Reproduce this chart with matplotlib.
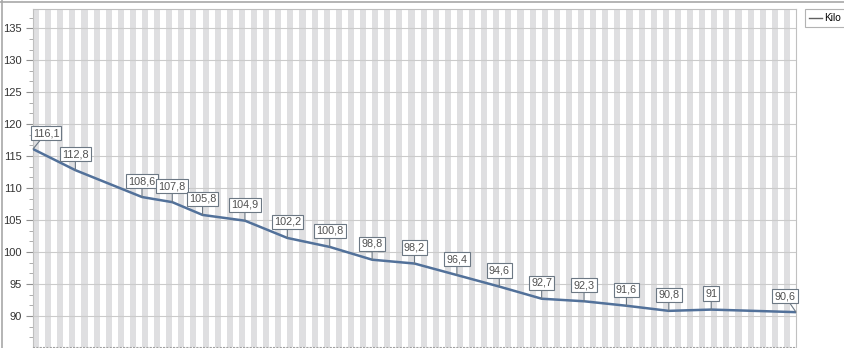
import matplotlib
matplotlib.use('Agg')
import matplotlib.pyplot as plt
from matplotlib.lines import Line2D
from matplotlib.ticker import MultipleLocator

# jours depuis la premiere pesee et poids (kg)
jours = [0, 7, 18, 23, 28, 35, 42, 49, 56, 63, 70, 77, 84, 91, 98, 105, 112, 126]
poids = [116.1, 112.8, 108.6, 107.8, 105.8, 104.9, 102.2, 100.8, 98.8, 98.2,
         96.4, 94.6, 92.7, 92.3, 91.6, 90.8, 91.0, 90.6]
etiquettes = ['116,1', '112,8', '108,6', '107,8', '105,8', '104,9', '102,2', '100,8',
              '98,8', '98,2', '96,4', '94,6', '92,7', '92,3', '91,6', '90,8', '91', '90,6']
nom_serie = 'Kilo'

plt.rcParams['font.family'] = ['Liberation Sans', 'DejaVu Sans']

fig = plt.figure(figsize=(8.44, 3.48), dpi=100)
ax = fig.add_axes([33 / 844, 1 / 348, (796 - 33) / 844, (347 - 9) / 348])

# bandes verticales alternees (un jour sur deux)
for d in range(0, 126, 2):
    ax.axvspan(d, d + 1, color='#dfdfe1', lw=0, zorder=0)

ax.set_xlim(0, 126)
ax.set_ylim(85.15, 138)
ax.yaxis.set_major_locator(MultipleLocator(5))
ax.yaxis.set_minor_locator(MultipleLocator(5 / 3))
ax.grid(axis='y', which='major', color='#cbcbcb', lw=0.8, zorder=1)
ax.set_axisbelow(True)

ax.plot(jours, poids, color='#52719a', lw=1.8, zorder=3)

# etiquettes de valeurs
for i, (j, p, t) in enumerate(zip(jours, poids, etiquettes)):
    dx, dy = 0, 16
    if i == 0:
        dx = 13
    elif i == len(jours) - 1:
        dx, dy = -11, 16
    ax.annotate(t, xy=(j, p), xytext=(dx, dy), textcoords='offset pixels',
                ha='center', va='center', fontsize=7.8, color='#505050', zorder=5,
                bbox=dict(boxstyle='square,pad=0.2', fc='white', ec='#6c7884', lw=0.8),
                arrowprops=dict(arrowstyle='-', color='#6c7884', lw=0.8,
                                shrinkA=0, shrinkB=0),
                annotation_clip=False)

for s in ['top', 'right', 'left']:
    ax.spines[s].set_color('#c0c0c0')
ax.spines['bottom'].set_color('#a0a0a0')
ax.spines['bottom'].set_linestyle((0, (1, 2)))
ax.tick_params(axis='y', which='major', length=5, color='#909090',
               labelsize=8, labelcolor='#333333', pad=3)
ax.tick_params(axis='y', which='minor', length=3, color='#a0a0a0')
ax.tick_params(axis='x', which='both', bottom=False, labelbottom=False)

# cadre exterieur
fig.add_artist(Line2D([0, 1], [1 - 1.5 / 348] * 2, color='#a8a8a8', lw=1.2))
fig.add_artist(Line2D([1.5 / 844] * 2, [0, 1], color='#a8a8a8', lw=1.2))

leg = fig.legend(handles=[Line2D([], [], color='#606060', lw=1)], labels=[nom_serie],
                 loc='upper left', bbox_to_anchor=(805 / 844, 1 - 9 / 348),
                 fontsize=7.2, frameon=True, fancybox=False, handlelength=1.3,
                 handletextpad=0.25, borderpad=0.4, borderaxespad=0)
leg.get_frame().set_edgecolor('#a0a0a0')
leg.get_frame().set_linewidth(0.8)

fig.savefig('out.png', dpi=100)
